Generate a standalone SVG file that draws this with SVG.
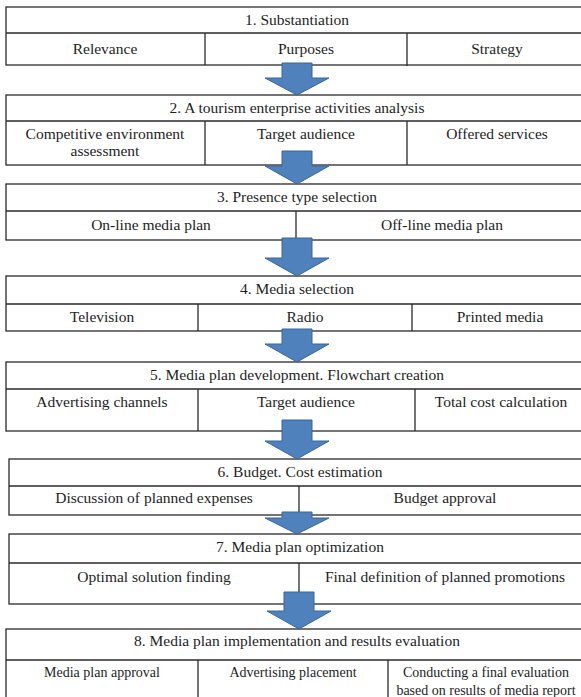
<svg xmlns="http://www.w3.org/2000/svg" width="581" height="697" viewBox="0 0 581 697">
<defs>
<style>
.box{fill:#fff;stroke:#2a2a2a;stroke-width:1.3}
.ln{stroke:#2a2a2a;stroke-width:1.3;fill:none}
.t{font-family:'Liberation Serif','DejaVu Serif',serif;font-size:15.5px;fill:#1e1e1e;text-anchor:middle}
.s{font-size:14px}
.arr{fill:#4F81BD;stroke:#3B6597;stroke-width:1}
</style>
</defs>
<rect width="581" height="697" fill="#fff"/>

<g id="s1" font-family="Liberation Serif, DejaVu Serif, serif">
<rect class="box" x="6" y="7" width="590" height="58"/>
<line class="ln" x1="6" y1="33" x2="596" y2="33"/>
<line class="ln" x1="205" y1="33" x2="205" y2="65"/>
<line class="ln" x1="407" y1="33" x2="407" y2="66"/>
<text class="t" x="297" y="25">1. Substantiation</text>
<text class="t" x="105" y="54">Relevance</text>
<text class="t" x="306" y="54">Purposes</text>
<text class="t" x="497" y="54">Strategy</text>
</g>

<g id="s2">
<rect class="box" x="6" y="95" width="590" height="70"/>
<line class="ln" x1="6" y1="121" x2="596" y2="121"/>
<line class="ln" x1="205" y1="121" x2="205" y2="165"/>
<line class="ln" x1="407" y1="121" x2="407" y2="165"/>
<text class="t" x="297" y="113">2. A tourism enterprise activities analysis</text>
<text class="t" x="105" y="139">Competitive environment</text>
<text class="t" x="105" y="156">assessment</text>
<text class="t" x="306" y="139">Target audience</text>
<text class="t" x="497" y="139">Offered services</text>
</g>

<g id="s3">
<rect class="box" x="6" y="184" width="590" height="56"/>
<line class="ln" x1="6" y1="211" x2="596" y2="211"/>
<line class="ln" x1="296" y1="211" x2="296" y2="240"/>
<text class="t" x="297" y="202">3. Presence type selection</text>
<text class="t" x="151" y="230">On-line media plan</text>
<text class="t" x="442" y="230">Off-line media plan</text>
</g>

<g id="s4">
<rect class="box" x="6" y="276" width="590" height="55"/>
<line class="ln" x1="6" y1="304" x2="596" y2="304"/>
<line class="ln" x1="198" y1="304" x2="198" y2="331"/>
<line class="ln" x1="412" y1="304" x2="412" y2="331"/>
<text class="t" x="297" y="294">4. Media selection</text>
<text class="t" x="102" y="322">Television</text>
<text class="t" x="305" y="322">Radio</text>
<text class="t" x="500" y="322">Printed media</text>
</g>

<g id="s5">
<rect class="box" x="6" y="362" width="590" height="69"/>
<line class="ln" x1="6" y1="389" x2="596" y2="389"/>
<line class="ln" x1="198" y1="389" x2="198" y2="431"/>
<line class="ln" x1="415" y1="389" x2="415" y2="431"/>
<text class="t" x="297" y="380">5. Media plan development. Flowchart creation</text>
<text class="t" x="102" y="407">Advertising channels</text>
<text class="t" x="306" y="407">Target audience</text>
<text class="t" x="501" y="407">Total cost calculation</text>
</g>

<g id="s6">
<rect class="box" x="9" y="459" width="590" height="56"/>
<line class="ln" x1="9" y1="486" x2="599" y2="486"/>
<line class="ln" x1="299" y1="486" x2="299" y2="515"/>
<text class="t" x="300" y="477">6. Budget. Cost estimation</text>
<text class="t" x="154" y="503">Discussion of planned expenses</text>
<text class="t" x="445" y="503">Budget approval</text>
</g>

<g id="s7">
<rect class="box" x="9" y="534" width="590" height="70"/>
<line class="ln" x1="9" y1="563" x2="599" y2="563"/>
<line class="ln" x1="299" y1="563" x2="299" y2="604"/>
<text class="t" x="300" y="552">7. Media plan optimization</text>
<text class="t" x="154" y="582">Optimal solution finding</text>
<text class="t" x="445" y="582">Final definition of planned promotions</text>
</g>

<g id="s8">
<rect class="box" x="6" y="629" width="590" height="90"/>
<line class="ln" x1="6" y1="660" x2="596" y2="660"/>
<line class="ln" x1="198" y1="660" x2="198" y2="719"/>
<line class="ln" x1="388" y1="660" x2="388" y2="719"/>
<text class="t" x="297" y="646">8. Media plan implementation and results evaluation</text>
<text class="t s" x="102" y="677">Media plan approval</text>
<text class="t s" x="293" y="677">Advertising placement</text>
<text class="t s" x="486" y="677">Conducting a final evaluation</text>
<text class="t s" x="486" y="695">based on results of media report</text>
</g>

<g id="connectors">
<polygon class="arr" points="282,63 312,63 312,78 329,78 297,95 265,78 282,78"/>
<polygon class="arr" points="282,151 312,151 312,166 329,166 297,184 265,166 282,166"/>
<polygon class="arr" points="282,238 312,238 312,258 329,258 297,276 265,258 282,258"/>
<polygon class="arr" points="282,329 312,329 312,344 329,344 297,362 265,344 282,344"/>
<polygon class="arr" points="282,420 312,420 312,441 329,441 297,459 265,441 282,441"/>
<polygon class="arr" points="282,512 312,512 312,518 329,518 297,534 265,518 282,518"/>
<polygon class="arr" points="284,592 314,592 314,611 331,611 299,629 267,611 284,611"/>
</g>
</svg>
